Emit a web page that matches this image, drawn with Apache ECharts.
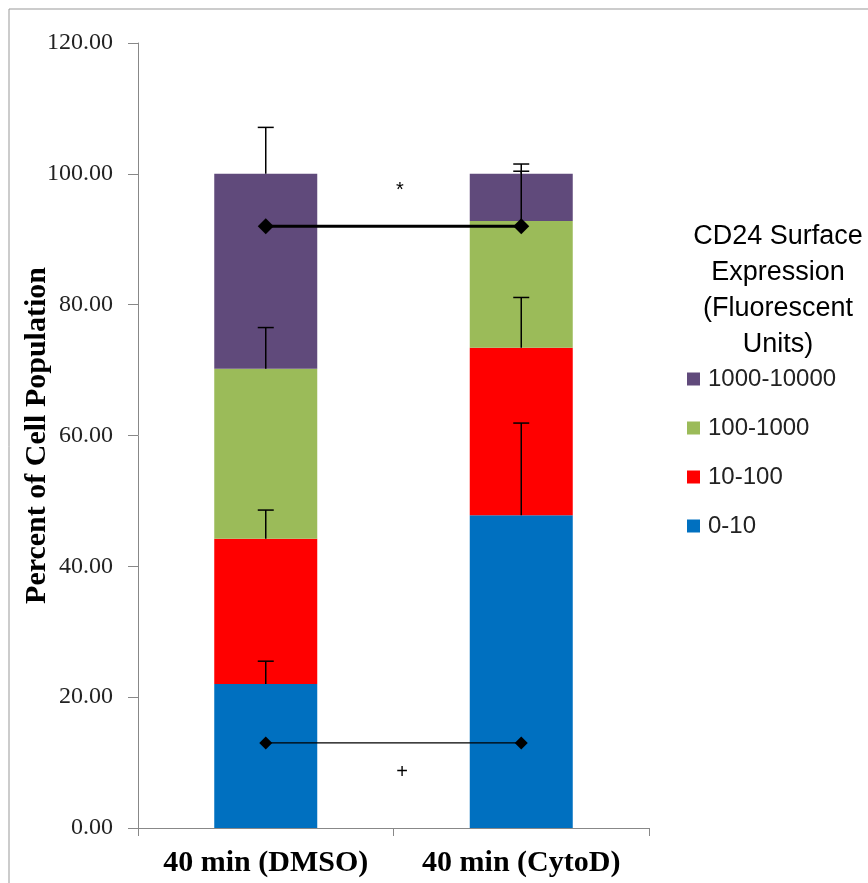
<!DOCTYPE html>
<html>
<head>
<meta charset="utf-8">
<script src="https://cdn.jsdelivr.net/npm/echarts@6/dist/echarts.min.js"></script>
<style>html,body{margin:0;padding:0;background:#fff;}#c{width:868px;height:883px;}</style>
</head>
<body>
<div id="c"></div>
<script>
var categories = ['40 min (DMSO)', '40 min (CytoD)'];
var seriesNames = ['0-10', '10-100', '100-1000', '1000-10000'];
var v0_10 = [22.0, 47.8];
var v10_100 = [22.2, 25.6];
var v100_1000 = [26.0, 19.4];
var v1000_10000 = [29.8, 7.2];
var err0_10 = [3.5, 14.1];
var err10_100 = [4.4, 7.7];
var err100_1000 = [6.3, 7.6];
var err1000_10000 = [7.1, 1.5];
var lineHigh = [92.0, 92.0];
var lineLow = [13.0, 13.0];
var yTicks = [0, 20, 40, 60, 80, 100, 120];
var colors = ['#0070C0', '#FF0000', '#9BBB59', '#604A7B'];

var values = [v0_10, v10_100, v100_1000, v1000_10000];
var errs = [err0_10, err10_100, err100_1000, err1000_10000];

var serif = '"Liberation Serif", "Times New Roman", serif';
var sans = '"Liberation Sans", Arial, sans-serif';

var series = [];
for (var s = 0; s < 4; s++) {
  series.push({
    name: seriesNames[s], type: 'bar', stack: 'all', barWidth: 103,
    itemStyle: { color: colors[s] }, data: values[s], z: 2
  });
}
// error bars: upward from top of each stacked segment
var errData = [];
for (var c = 0; c < categories.length; c++) {
  var cum = 0;
  for (var s2 = 0; s2 < 4; s2++) {
    cum += values[s2][c];
    errData.push([c, cum, cum + errs[s2][c]]);
  }
}
series.push({
  type: 'custom', name: 'err', z: 5, silent: true,
  renderItem: function (params, api) {
    var b = api.coord([api.value(0), api.value(1)]);
    var t = api.coord([api.value(0), api.value(2)]);
    var style = { stroke: '#000', lineWidth: 1.5 };
    return { type: 'group', children: [
      { type: 'line', shape: { x1: b[0], y1: b[1], x2: t[0], y2: t[1] }, style: style },
      { type: 'line', shape: { x1: t[0] - 8, y1: t[1], x2: t[0] + 8, y2: t[1] }, style: style }
    ]};
  },
  data: errData
});
series.push({
  type: 'line', name: 'high', data: lineHigh, symbol: 'diamond', symbolSize: 16,
  lineStyle: { color: '#000', width: 3 }, itemStyle: { color: '#000' }, z: 6, silent: true
});
series.push({
  type: 'line', name: 'low', data: lineLow, symbol: 'diamond', symbolSize: 13,
  lineStyle: { color: '#000', width: 1.2 }, itemStyle: { color: '#000' }, z: 6, silent: true
});

var chart = echarts.init(document.getElementById('c'), null, { renderer: 'canvas' });
chart.setOption({
  animation: false,
  backgroundColor: '#fff',
  grid: { left: 138, right: 219, top: 43, bottom: 55, containLabel: false },
  xAxis: {
    type: 'category', data: categories,
    axisLine: { lineStyle: { color: '#888', width: 1 } },
    axisTick: { show: true, length: 8, lineStyle: { color: '#888' } },
    axisLabel: { interval: 0, hideOverlap: false, margin: 20, fontFamily: serif, fontWeight: 'bold', fontSize: 30, color: '#000' }
  },
  yAxis: {
    type: 'value', min: 0, max: 120, interval: 20,
    name: 'Percent of Cell Population', nameLocation: 'middle', nameGap: 86, nameMoveOverlap: false,
    nameTextStyle: { fontFamily: serif, fontWeight: 'bold', fontSize: 30, color: '#000' },
    axisLine: { show: true, lineStyle: { color: '#888', width: 1 } },
    axisTick: { show: true, length: 10, lineStyle: { color: '#888' } },
    splitLine: { show: false },
    axisLabel: { margin: 25, fontFamily: serif, fontSize: 24, color: '#222',
      formatter: function (v) { return yTicks.indexOf(v) >= 0 ? v.toFixed(2) : ''; } }
  },
  legend: {
    data: ['1000-10000', '100-1000', '10-100', '0-10'],
    orient: 'vertical', left: 682, top: 362, itemWidth: 13, itemHeight: 13, itemGap: 25,
    icon: 'rect', selectedMode: false,
    textStyle: { fontFamily: sans, fontSize: 24, color: '#222', padding: [0, 0, 0, 3] }
  },
  graphic: [
    { type: 'rect', shape: { x: 9, y: 9, width: 900, height: 900 }, style: { fill: 'none', stroke: '#999', lineWidth: 1 }, z: -1, silent: true },
    { type: 'text', x: 778, y: 219, style: { text: 'CD24 Surface\nExpression\n(Fluorescent\nUnits)', fontFamily: sans, fontSize: 27, lineHeight: 36, align: 'center', verticalAlign: 'top', fill: '#000' } },
    { type: 'text', x: 400, y: 190, style: { text: '*', fontFamily: sans, fontSize: 20, align: 'center', verticalAlign: 'middle', fill: '#000' } },
    { type: 'text', x: 402, y: 772, style: { text: '+', fontFamily: sans, fontSize: 20, align: 'center', verticalAlign: 'middle', fill: '#000' } }
  ],
  series: series
});
</script>
</body>
</html>
